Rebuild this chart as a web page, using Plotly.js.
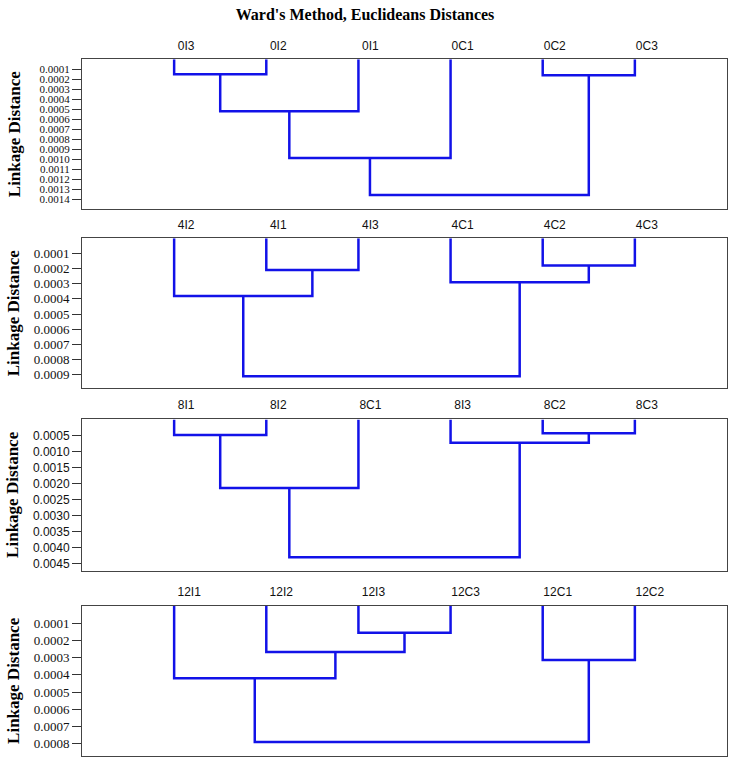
<!DOCTYPE html>
<html>
<head>
<meta charset="utf-8">
<script src="https://cdn.plot.ly/plotly-3.0.1.min.js"></script>
<style>html,body{margin:0;padding:0;background:#fff}#chart{width:730px;height:759px}</style>
</head>
<body>
<div id="chart"></div>
<script>
// ---- Data (leaf order, and linkage: [childA, childB, mergeHeight]; ids >= 6 are earlier merges) ----
const leaves0 = ["0I3", "0I2", "0I1", "0C1", "0C2", "0C3"];
const merges0 = [[0, 1, 0.00015], [4, 5, 0.00016], [6, 2, 0.00052], [8, 3, 0.00099], [9, 7, 0.00136]];
const ticks0 = [0.0001, 0.0002, 0.0003, 0.0004, 0.0005, 0.0006, 0.0007, 0.0008, 0.0009, 0.0010, 0.0011, 0.0012, 0.0013, 0.0014];

const leaves4 = ["4I2", "4I1", "4I3", "4C1", "4C2", "4C3"];
const merges4 = [[1, 2, 0.00021], [4, 5, 0.00018], [3, 7, 0.00029], [0, 6, 0.00038], [9, 8, 0.00091]];
const ticks4 = [0.0001, 0.0002, 0.0003, 0.0004, 0.0005, 0.0006, 0.0007, 0.0008, 0.0009];

const leaves8 = ["8I1", "8I2", "8C1", "8I3", "8C2", "8C3"];
const merges8 = [[4, 5, 0.00043], [0, 1, 0.00048], [3, 6, 0.00072], [7, 2, 0.00214], [9, 8, 0.00431]];
const ticks8 = [0.0005, 0.0010, 0.0015, 0.0020, 0.0025, 0.0030, 0.0035, 0.0040, 0.0045];

const leaves12 = ["12I1", "12I2", "12I3", "12C3", "12C1", "12C2"];
const merges12 = [[2, 3, 0.000156], [1, 6, 0.000267], [4, 5, 0.000314], [0, 7, 0.00042], [9, 8, 0.00079]];
const ticks12 = [0.0001, 0.0002, 0.0003, 0.0004, 0.0005, 0.0006, 0.0007, 0.0008];

const chartTitle = "Ward's Method, Euclideans Distances";
const yTitle = "Linkage Distance";

// ---- Build dendrogram segments from linkage ----
function dendro(leaves, merges) {
  const nx = [], nh = [];
  leaves.forEach((_, i) => { nx.push(i + 1); nh.push(0); });
  const xs = [], ys = [];
  merges.forEach(([a, b, h]) => {
    xs.push(nx[a], nx[a], nx[b], nx[b], null);
    ys.push(nh[a], h, h, nh[b], null);
    nx.push((nx[a] + nx[b]) / 2);
    nh.push(h);
  });
  return {xs, ys};
}

const panels = [
  {leaves: leaves0, merges: merges0, ticks: ticks0, range: [0.0015, 0], dom: [59.3, 209], font: "Liberation Serif, Times New Roman, serif", fs: 11, shift: 12, standoff: 14},
  {leaves: leaves4, merges: merges4, ticks: ticks4, range: [0.00099, 0], dom: [238.3, 388.3], font: "Liberation Serif, Times New Roman, serif", fs: 13, shift: 12, standoff: 9},
  {leaves: leaves8, merges: merges8, ticks: ticks8, range: [0.00473, -0.00002], dom: [419, 570.7], font: "Liberation Sans, Arial, sans-serif", fs: 12, shift: 12, standoff: 9},
  {leaves: leaves12, merges: merges12, ticks: ticks12, range: [0.00087, 0], dom: [606, 755.7], font: "Liberation Serif, Times New Roman, serif", fs: 13, shift: 15, standoff: 9}
];

const H = 759;
const data = [];
const layout = {
  width: 730, height: 759,
  margin: {l: 82, r: 3, t: 0, b: 0},
  paper_bgcolor: "#ffffff", plot_bgcolor: "#ffffff",
  showlegend: false,
  title: {
    text: "<b>" + chartTitle + "</b>",
    font: {family: "Liberation Serif, Times New Roman, serif", size: 16, color: "#000"},
    x: 0.5, xref: "container", xanchor: "center",
    y: 1 - 14 / H, yref: "container", yanchor: "middle"
  }
};

panels.forEach((p, i) => {
  const k = i === 0 ? "" : String(i + 1);
  const seg = dendro(p.leaves, p.merges);
  data.push({
    type: "scatter", mode: "lines", x: seg.xs, y: seg.ys,
    xaxis: "x" + k, yaxis: "y" + k,
    line: {color: "#1212e8", width: 2.5, shape: "linear"},
    hoverinfo: "skip", connectgaps: false
  });
  layout["xaxis" + k] = {
    domain: [0, 1], range: [0, 7], anchor: "y" + k, side: "top",
    tickmode: "array", tickvals: p.leaves.map((_, j) => j + 1), ticktext: p.leaves,
    ticks: "", ticklabelshift: p.shift, ticklabelstandoff: 4,
    tickfont: {family: "Liberation Sans, Arial, sans-serif", size: 12, color: "#111"},
    showgrid: false, zeroline: false, showline: true, mirror: true,
    linecolor: "#444", linewidth: 1, fixedrange: true
  };
  layout["yaxis" + k] = {
    domain: [1 - p.dom[1] / H, 1 - p.dom[0] / H], range: p.range, anchor: "x" + k,
    tickmode: "array", tickvals: p.ticks, tickformat: ".4f",
    ticks: "outside", ticklen: 9, tickcolor: "#333", tickwidth: 1,
    tickfont: {family: p.font, size: p.fs, color: "#111"},
    showgrid: false, zeroline: false, showline: true, mirror: true,
    linecolor: "#444", linewidth: 1, fixedrange: true,
    title: {text: "<b>" + yTitle + "</b>", standoff: p.standoff,
            font: {family: "Liberation Serif, Times New Roman, serif", size: 17, color: "#000"}}
  };
});

Plotly.newPlot("chart", data, layout, {displayModeBar: false, staticPlot: true});
</script>
</body>
</html>
